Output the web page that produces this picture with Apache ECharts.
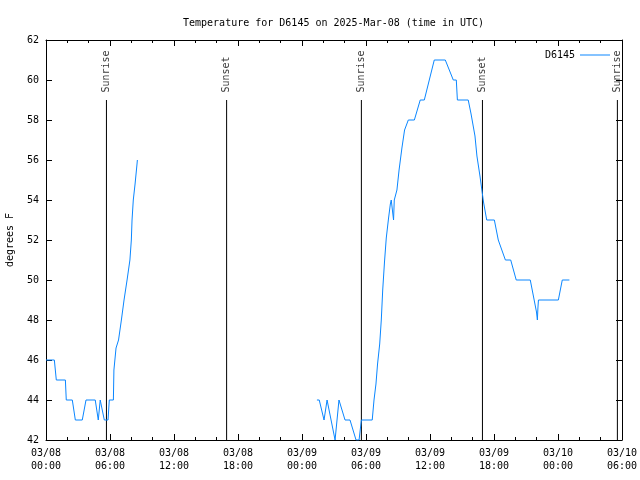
<!DOCTYPE html>
<html><head><meta charset="utf-8">
<script src="https://cdn.jsdelivr.net/npm/echarts@6/dist/echarts.min.js"></script>
<style>html,body{margin:0;padding:0;background:#fff}#c{width:640px;height:480px}</style>
</head><body><div id="c"></div>
<script>
// ---- data ----
const seriesName = 'D6145';
const times1 = ['2025-03-08 00:00','2025-03-08 00:47','2025-03-08 00:58','2025-03-08 01:49','2025-03-08 01:54','2025-03-08 02:28','2025-03-08 02:45','2025-03-08 03:24','2025-03-08 03:45','2025-03-08 04:37','2025-03-08 04:54','2025-03-08 05:05','2025-03-08 05:28','2025-03-08 05:49','2025-03-08 05:56','2025-03-08 06:19','2025-03-08 06:22','2025-03-08 06:34','2025-03-08 06:48','2025-03-08 07:04','2025-03-08 07:19','2025-03-08 07:36','2025-03-08 07:52','2025-03-08 08:00','2025-03-08 08:04','2025-03-08 08:11','2025-03-08 08:21','2025-03-08 08:32','2025-03-08 08:34'];
const temps1 = [46,46,45,45,44,44,43,43,44,44,43,44,43,43,44,44,45.5,46.6,47,48,49,50,51,52,53,54,54.8,55.8,56];
const times2 = ['2025-03-09 01:24','2025-03-09 01:37','2025-03-09 02:04','2025-03-09 02:21','2025-03-09 03:06','2025-03-09 03:28','2025-03-09 03:38','2025-03-09 04:02','2025-03-09 04:30','2025-03-09 05:04','2025-03-09 05:21','2025-03-09 05:34','2025-03-09 06:35','2025-03-09 06:45','2025-03-09 06:56','2025-03-09 07:05','2025-03-09 07:17','2025-03-09 07:26','2025-03-09 07:34','2025-03-09 07:44','2025-03-09 07:54','2025-03-09 08:07','2025-03-09 08:17','2025-03-09 08:22','2025-03-09 08:35','2025-03-09 08:39','2025-03-09 08:54','2025-03-09 09:06','2025-03-09 09:22','2025-03-09 09:37','2025-03-09 09:58','2025-03-09 10:32','2025-03-09 11:05','2025-03-09 11:28','2025-03-09 12:24','2025-03-09 13:26','2025-03-09 14:11','2025-03-09 14:28','2025-03-09 14:34','2025-03-09 15:35','2025-03-09 15:51','2025-03-09 16:13','2025-03-09 16:24','2025-03-09 16:41','2025-03-09 17:01','2025-03-09 17:19','2025-03-09 18:02','2025-03-09 18:24','2025-03-09 18:34','2025-03-09 19:04','2025-03-09 19:34','2025-03-09 20:05','2025-03-09 21:24','2025-03-09 21:59','2025-03-09 22:04','2025-03-09 22:07','2025-03-09 22:10','2025-03-10 00:02','2025-03-10 00:24','2025-03-10 01:04'];
const temps2 = [44,44,43,44,42,44,44,43,43,42,42,43,43,44,44.8,45.8,46.8,48,49.5,50.9,52.1,53.1,53.8,54,53,54,54.5,55.5,56.6,57.5,58,58,59,59,61,61,60,60,59,59,58.3,57.2,56.2,55.2,53.9,53,53,52,52,51,51,50,50,48.4,48,48.6,49,49,50,50];
const sunTimes = ['2025-03-08 05:40','2025-03-08 16:56','2025-03-09 05:34','2025-03-09 16:55','2025-03-10 05:34'];
const sunLabels = ['Sunrise','Sunset','Sunrise','Sunset','Sunrise'];
const yTicks = [42,44,46,48,50,52,54,56,58,60,62];

// ---- helpers ----
const T0 = Date.UTC(2025,2,8,0,0);
function toHours(s){
  const m = s.match(/(\d+)-(\d+)-(\d+) (\d+):(\d+)/);
  return (Date.UTC(+m[1], +m[2]-1, +m[3], +m[4], +m[5]) - T0)/3600000;
}
function pad(n){return (n<10?'0':'')+n;}
function fmtX(h){
  const d = new Date(T0 + h*3600000);
  return pad(d.getUTCMonth()+1)+'/'+pad(d.getUTCDate())+'\n'+pad(d.getUTCHours())+':'+pad(d.getUTCMinutes());
}
const FONT = 'DejaVu Sans Mono';
const BLUE = '#0a86ff';

const seg1 = times1.map((t,i)=>[toHours(t), temps1[i]]);
const seg2 = times2.map((t,i)=>[toHours(t), temps2[i]]);

const series = [
  {name: seriesName, type:'line', data: seg1, symbol:'none', lineStyle:{color:BLUE, width:1}, itemStyle:{color:BLUE}, z:5},
  {name: seriesName, type:'line', data: seg2, symbol:'none', lineStyle:{color:BLUE, width:1}, itemStyle:{color:BLUE}, z:5}
];
const yMin = yTicks[0], yMax = yTicks[yTicks.length-1];
sunTimes.forEach((t,i)=>{
  const h = toHours(t);
  series.push({type:'line', data:[[h,yMin],[h,59]], symbol:'none', silent:true,
    lineStyle:{color:'#000', width:1}, itemStyle:{color:'#000'}, z:3});
  series.push({type:'scatter', data:[[h,59]], symbolSize:1, silent:true,
    itemStyle:{color:'rgba(0,0,0,0)'},
    label:{show:true, formatter:sunLabels[i], position:'top', distance:7, rotate:90,
      align:'left', verticalAlign:'middle', color:'#000', fontFamily:FONT, fontSize:10}});
});

const xCommon = {type:'value', min:0, max:54, interval:6,
  axisLine:{show:true, onZero:false, lineStyle:{color:'#000', width:1}},
  axisTick:{show:true, inside:true, length:6, lineStyle:{color:'#000'}},
  minorTick:{show:true, splitNumber:3, length:3, lineStyle:{color:'#000'}},
  splitLine:{show:false}};
const yCommon = {type:'value', min:yMin, max:yMax, interval:2,
  axisLine:{show:true, onZero:false, lineStyle:{color:'#000', width:1}},
  axisTick:{show:true, inside:true, length:6, lineStyle:{color:'#000'}},
  splitLine:{show:false}};

const chart = echarts.init(document.getElementById('c'), null, {renderer:'canvas'});
chart.setOption({
  animation:false,
  backgroundColor:'#fff',
  title:{text:'Temperature for D6145 on 2025-Mar-08 (time in UTC)', left:178, top:13,
    textStyle:{fontFamily:FONT, fontSize:10, fontWeight:'normal', color:'#000'}},
  legend:{data:[{name:seriesName, icon:'rect'}], right:25, top:45, align:'right', itemWidth:30, itemHeight:1,
    itemGap:6, textStyle:{fontFamily:FONT, fontSize:10, color:'#000'}},
  grid:{left:46, right:18, top:40, bottom:40, containLabel:false, outerBoundsMode:'none'},
  xAxis:[
    Object.assign({}, xCommon, {position:'bottom',
      axisLabel:{show:true, formatter:fmtX, fontFamily:FONT, fontSize:10, color:'#000', lineHeight:13, margin:7}}),
    Object.assign({}, xCommon, {position:'top', axisLabel:{show:false}})
  ],
  yAxis:[
    Object.assign({}, yCommon, {position:'left', name:'degrees F', nameLocation:'middle', nameGap:31,
      nameTextStyle:{fontFamily:FONT, fontSize:10, color:'#000'},
      axisLabel:{show:true, fontFamily:FONT, fontSize:10, color:'#000', margin:7}}),
    Object.assign({}, yCommon, {position:'right', axisLabel:{show:false}})
  ],
  series: series
});
</script></body></html>
